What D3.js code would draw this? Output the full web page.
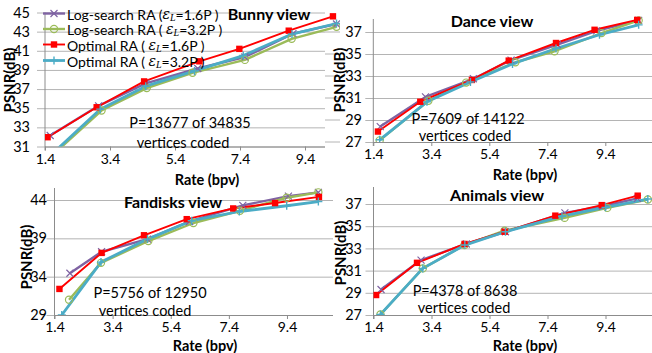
<!DOCTYPE html>
<html><head><meta charset="utf-8">
<script src="https://cdn.jsdelivr.net/npm/d3@7"></script>
<style>
body{margin:0;background:#fff}
svg{display:block}
text{font-family:Lato,'Open Sans',sans-serif;fill:#000}
</style>
</head><body>
<svg id="c" width="652" height="353"></svg>
<script>
// ---------- data ----------
const rateTicks = [1.4, 3.4, 5.4, 7.4, 9.4];
const seriesNames = ["Log-search RA (", "Log-search RA (  ", "Optimal RA (  ", "Optimal RA ( "];
const seriesEps = ["=1.6P )", "=3.2P )", "=1.6P )", "=3.2P )"];
const seriesColors = ["#7F63A3", "#9BBB59", "#FF0000", "#4BACC6"];

const bunnyTicks = [31, 33, 35, 37, 39, 41, 43, 45];
const bunnyLog16 = [[1.56,32.15],[3.05,35.25],[4.5,37.6],[6.1,39.15],[7.55,40.35],[9.03,42.8],[10.37,43.8]];
const bunnyLog32 = [[1.6,30.0],[3.14,34.76],[4.53,37.1],[5.94,38.7],[7.55,40.05],[8.99,42.25],[10.37,43.5]];
const bunnyOpt16 = [[1.48,31.97],[2.99,35.1],[4.45,37.8],[6.15,39.9],[7.38,41.2],[8.9,43.1],[10.26,44.6]];
const bunnyOpt32 = [[1.55,30.0],[3.1,34.9],[4.5,37.3],[6.0,38.9],[7.5,40.5],[9.0,42.75],[10.37,43.85]];

const danceTicks = [27, 29, 31, 33, 35, 37];
const danceLog16 = [[1.64,28.4],[3.2,31.1],[4.85,32.75],[6.15,34.45],[7.75,35.85],[9.1,37.1],[10.55,38.05]];
const danceLog32 = [[1.62,27.15],[3.3,30.75],[4.6,32.4],[6.3,34.25],[7.65,35.25],[9.27,36.9],[10.55,38.05]];
const danceOpt16 = [[1.56,27.95],[3.02,30.66],[4.8,32.64],[6.07,34.4],[7.7,36.0],[9.03,37.2],[10.5,38.1]];
const danceOpt32 = [[1.62,27.2],[3.25,30.65],[4.75,32.45],[6.2,34.1],[7.7,35.5],[9.2,36.75],[10.55,37.65]];

const fanTicks = [29, 34, 39, 44];
const fanLog16 = [[1.93,34.45],[3.02,37.25],[4.6,38.9],[6.05,41.2],[7.88,43.3],[9.45,44.5],[10.48,45.0]];
const fanLog32 = [[1.9,31.0],[3.0,35.8],[4.63,38.65],[6.18,41.0],[7.78,42.6],[9.39,44.3],[10.48,45.0]];
const fanOpt16 = [[1.57,32.4],[3.02,37.1],[4.48,39.4],[5.95,41.5],[7.55,42.9],[8.99,43.6],[10.5,44.4]];
const fanOpt32 = [[1.65,29.0],[3.0,35.9],[4.6,38.9],[6.12,41.3],[7.76,42.5],[9.39,43.25],[10.48,43.8]];

const aniTicks = [27, 29, 31, 33, 35, 37];
const aniLog16 = [[1.66,29.3],[3.04,31.95],[4.6,33.4],[5.95,34.5],[8.0,36.2],[9.3,36.8],[10.5,37.5]];
const aniLog32 = [[1.64,27.05],[3.1,31.2],[4.54,33.3],[5.92,34.6],[7.99,35.75],[9.46,36.65],[10.86,37.4]];
const aniOpt16 = [[1.49,28.8],[2.9,31.7],[4.54,33.4],[5.92,34.5],[7.67,35.95],[9.27,36.9],[10.51,37.75]];
const aniOpt32 = [[1.64,27.05],[3.1,31.2],[4.55,33.3],[5.95,34.5],[7.9,35.9],[9.4,36.7],[10.86,37.45]];

const titles = ["Bunny view", "Dance view", "Fandisks view", "Animals view"];
const notes = [["P=13677 of 34835", "vertices coded"], ["P=7609 of 14122", "vertices coded"],
               ["P=5756 of 12950", "vertices coded"], ["P=4378 of 8638", "vertices coded"]];

// ---------- drawing ----------
const svg = d3.select("#c");
const GRID = "#B4B4B4", AXIS = "#8C8C8C";

function marker(g, i, cx, cy) {
  const c = seriesColors[i];
  if (i === 0) {
    g.append("path").attr("d", `M${cx-3.5},${cy-3.5}L${cx+3.5},${cy+3.5}M${cx-3.5},${cy+3.5}L${cx+3.5},${cy-3.5}`)
      .attr("stroke", c).attr("stroke-width", 1.2).attr("fill", "none");
  } else if (i === 1) {
    g.append("circle").attr("cx", cx).attr("cy", cy).attr("r", 3.6)
      .attr("stroke", c).attr("stroke-width", 1.2).attr("fill", "none");
  } else if (i === 2) {
    g.append("rect").attr("x", cx-3.2).attr("y", cy-3.2).attr("width", 6.4).attr("height", 6.4).attr("fill", c);
  } else {
    g.append("path").attr("d", `M${cx-4},${cy}L${cx+4},${cy}M${cx},${cy-4}L${cx},${cy+4}`)
      .attr("stroke", c).attr("stroke-width", 1.4).attr("fill", "none");
  }
}

const lineW = [2.4, 2.4, 1.9, 2.8];
const drawOrder = [0, 1, 2, 3];

function panel(k, cfg, ticks, series) {
  const g = svg.append("g");
  const x = d3.scaleLinear().domain([1.4, 1.4 + (cfg.right - cfg.ax) / cfg.ppu]).range([cfg.ax, cfg.right]);
  const y = d3.scaleLinear().domain([ticks[0], ticks[ticks.length - 1]]).range([cfg.yBot, cfg.yTopTick]);

  if (cfg.stub) {
    ticks.forEach(t => g.append("line").attr("x1", cfg.stub[0]).attr("x2", cfg.stub[1])
      .attr("y1", y(t)).attr("y2", y(t)).attr("stroke", GRID));
  }
  const gl = cfg.ax - 8;
  const ya = g.append("g").attr("transform", `translate(${gl},0)`)
    .call(d3.axisLeft(y).tickValues(ticks).tickSize(-(cfg.gridRight - gl)).tickPadding(gl - cfg.labelRight).tickFormat(d3.format("d")));
  ya.select(".domain").remove();
  ya.selectAll(".tick line").attr("stroke", GRID).attr("stroke-width", 1);
  ya.selectAll(".tick text").style("font-family", "Lato").style("font-size", "14.5px").attr("fill", "#000");

  g.append("line").attr("x1", cfg.ax).attr("x2", cfg.ax).attr("y1", cfg.plotTop).attr("y2", cfg.yBot + 4)
    .attr("stroke", AXIS);
  const xa = g.append("g").attr("transform", `translate(0,${cfg.yBot})`)
    .call(d3.axisBottom(x).tickValues(rateTicks).tickSize(4).tickSizeOuter(0).tickPadding(cfg.xPad).tickFormat(d3.format(".1f")));
  xa.select(".domain").attr("stroke", AXIS).attr("d", `M${cfg.ax},0.5H${cfg.gridRight}`);
  xa.selectAll(".tick line").attr("stroke", AXIS);
  xa.selectAll(".tick text").style("font-family", "Lato").style("font-size", "14px").attr("fill", "#000");

  const cid = "clip" + k;
  svg.append("clipPath").attr("id", cid).append("rect")
    .attr("x", cfg.ax).attr("y", cfg.plotTop - 6).attr("width", cfg.dataRight - cfg.ax).attr("height", cfg.yBot - cfg.plotTop + 6);

  const lg = g.append("g").attr("clip-path", `url(#${cid})`);
  const line = d3.line().x(d => x(d[0])).y(d => y(d[1]));
  drawOrder.forEach(i => {
    lg.append("path").datum(series[i]).attr("d", line).attr("fill", "none")
      .attr("stroke", seriesColors[i]).attr("stroke-width", lineW[i]).attr("stroke-linejoin", "round");
  });
  drawOrder.forEach(i => {
    series[i].forEach(d => {
      if (d[1] >= ticks[0] - 0.05) marker(lg, i, x(d[0]), y(d[1]));
    });
  });

  g.append("text").attr("x", cfg.title[0]).attr("y", cfg.title[1]).attr("text-anchor", "middle")
    .attr("dominant-baseline", "central").style("font-weight", "bold").style("font-size", "16px").text(titles[k]);
  g.append("text").attr("x", cfg.note[0]).attr("y", cfg.note[1]).attr("text-anchor", "middle")
    .attr("dominant-baseline", "central").style("font-size", "14.5px").text(notes[k][0]);
  g.append("text").attr("x", cfg.note[2]).attr("y", cfg.note[3]).attr("text-anchor", "middle")
    .attr("dominant-baseline", "central").style("font-size", "14.5px").text(notes[k][1]);
  g.append("text").attr("transform", `translate(${cfg.yTitle[0]},${cfg.yTitle[1]}) rotate(-90)`)
    .attr("text-anchor", "middle").attr("dominant-baseline", "central")
    .style("font-weight", "bold").style("font-size", "15px").text("PSNR(dB)");
  g.append("text").attr("x", cfg.xTitle[0]).attr("y", cfg.xTitle[1]).attr("text-anchor", "middle")
    .attr("dominant-baseline", "central").style("font-weight", "bold").style("font-size", "14.5px").text("Rate (bpv)");
}

const layouts = [
  {ax: 45, ppu: 32.5, right: 340, gridRight: 325, dataRight: 340, yBot: 146.5, yTopTick: 12.5, plotTop: 12.5,
   labelRight: 30, xPad: 4, title: [269, 13], note: [190, 122, 183, 142], yTitle: [9, 80], xTitle: [207, 179]},
  {ax: 373.3, ppu: 29, right: 660, gridRight: 652, dataRight: 652, yBot: 142, yTopTick: 32, plotTop: 19, stub: [325, 340],
   labelRight: 362, xPad: 3, title: [492, 20], note: [468, 118, 465, 135], yTitle: [339, 80], xTitle: [525, 174]},
  {ax: 54.5, ppu: 29.06, right: 340, gridRight: 333, dataRight: 340, yBot: 315, yTopTick: 200, plotTop: 188,
   labelRight: 47, xPad: 3, title: [173, 201], note: [150, 292, 145, 310], yTitle: [26, 257], xTitle: [205, 345]},
  {ax: 373.5, ppu: 29, right: 660, gridRight: 652, dataRight: 652, yBot: 315, yTopTick: 204, plotTop: 187,
   labelRight: 362, xPad: 3, title: [497, 194], note: [465, 290, 464, 307], yTitle: [340, 253], xTitle: [525, 345]}
];

const panelTicks = [bunnyTicks, danceTicks, fanTicks, aniTicks];
const panelSeries = [
  [bunnyLog16, bunnyLog32, bunnyOpt16, bunnyOpt32],
  [danceLog16, danceLog32, danceOpt16, danceOpt32],
  [fanLog16, fanLog32, fanOpt16, fanOpt32],
  [aniLog16, aniLog32, aniOpt16, aniOpt32]
];

[1, 3, 0, 2].forEach(k => panel(k, layouts[k], panelTicks[k], panelSeries[k]));

// legend (inside Bunny panel)
const leg = svg.append("g");
const legRows = [13.5, 29, 44.5, 60.5];
seriesNames.forEach((nm, i) => {
  const yy = legRows[i];
  leg.append("line").attr("x1", 43).attr("x2", 65).attr("y1", yy).attr("y2", yy)
    .attr("stroke", seriesColors[i]).attr("stroke-width", lineW[i]);
  marker(leg, i, 54, yy);
  const t = leg.append("text").attr("x", 67).attr("y", yy).attr("dominant-baseline", "central")
    .style("font-size", "14px");
  t.append("tspan").text(nm);
  t.append("tspan").style("font-family", "'DejaVu Serif','Liberation Serif',serif").style("font-style", "italic").text("ε");
  t.append("tspan").style("font-family", "'Liberation Serif',serif").style("font-style", "italic")
    .style("font-size", "10px").attr("dy", 3).text("L");
  t.append("tspan").attr("dy", -3).text(seriesEps[i]);
});
</script>
</body></html>
